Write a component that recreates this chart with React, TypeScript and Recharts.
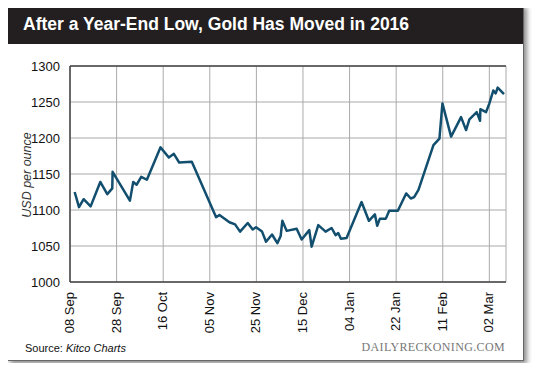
import React from 'react';
import { LineChart, Line, XAxis, YAxis, CartesianGrid, ReferenceLine } from 'recharts';

// trading-day index from 08 Sep 2015, and gold price (USD/oz)
const dayIndex = [
  1.4, 2.7, 4.1, 6.2, 9.1, 11.2, 12.7, 12.8, 18, 19, 20, 21.4, 23.1, 27.2, 29.7, 31.2, 32.8,
  36.6, 43.9, 44.9, 47.9, 49.6, 51.1, 53.4, 54.9, 55.9, 57.7, 58.9, 60.7, 62.3, 63.3, 63.8,
  65.1, 68.1, 69.6, 71.9, 72.6, 74.6, 76.8, 78.6, 79.8, 80.6, 81.4, 83.1, 87.6, 89.8, 91.6,
  92.3, 93.1, 94.9, 95.9, 98.5, 101, 102.4, 103.4, 104.7, 109.2, 111, 111.9, 114.5, 117.5,
  119, 120, 122.2, 123.2, 123.3, 125, 126, 127.2, 127.9, 128.5, 130.4,
];
const price = [
  1125, 1104, 1115, 1105, 1139, 1122, 1130, 1153, 1113, 1139, 1135, 1146, 1142, 1187, 1173, 1178, 1166,
  1167, 1090, 1093, 1083, 1080, 1070, 1082, 1073, 1076, 1070, 1056, 1066, 1054, 1064, 1085,
  1071, 1074, 1059, 1072, 1049, 1079, 1070, 1075, 1065, 1068, 1060, 1061, 1111, 1085, 1094,
  1078, 1088, 1088, 1099, 1099, 1123, 1116, 1118, 1128, 1190, 1199, 1248, 1202, 1229,
  1211, 1226, 1236, 1224, 1240, 1236, 1248, 1266, 1262, 1270, 1261,
];

const tickDays = [0, 14, 28, 42, 56, 70, 84, 98, 112, 126];
const tickLabels = ['08 Sep', '28 Sep', '16 Oct', '05 Nov', '25 Nov', '15 Dec', '04 Jan', '22 Jan', '11 Feb', '02 Mar'];
const yTicks = [1000, 1050, 1100, 1150, 1200, 1250, 1300];

const data = dayIndex.map((d, i) => ({ day: d, price: price[i] }));

const font = '"Liberation Sans", Arial, Helvetica, sans-serif';

const XTick = (props: any) => {
  const { x, y, payload } = props;
  const i = tickDays.indexOf(payload.value);
  return (
    <text
      x={x + 4}
      y={y + 2}
      transform={`rotate(-90 ${x + 4} ${y + 2})`}
      textAnchor="end"
      fontSize={13}
      fontFamily={font}
      fill="#111"
    >
      {tickLabels[i]}
    </text>
  );
};

export default function App() {
  return (
    <div style={{ position: 'relative', margin: -8, width: 540, height: 371, background: '#fff', overflow: 'hidden' }}>
      <div
        style={{
          position: 'absolute',
          left: 7,
          top: 4,
          width: 515,
          height: 355,
          border: '1px solid #666',
          boxShadow: '3px 3px 5px rgba(0,0,0,0.45)',
          background: '#fff',
        }}
      >
        <div
          style={{
            height: 39,
            background: '#231f20',
            color: '#fff',
            fontFamily: font,
            fontWeight: 'bold',
            fontSize: 17.5,
            lineHeight: '39px',
            paddingLeft: 15,
          }}
        >
          After a Year-End Low, Gold Has Moved in 2016
        </div>
      </div>
      <div style={{ position: 'absolute', left: 0, top: 0 }}>
        <LineChart width={540} height={371} data={data} margin={{ top: 66, right: 34, bottom: 39, left: 10 }}>
          <CartesianGrid stroke="#aaa" strokeWidth={1} />
          <XAxis
            dataKey="day"
            type="number"
            domain={[0, 131]}
            ticks={tickDays}
            interval={0}
            tick={<XTick />}
            tickLine={false}
            axisLine={{ stroke: '#444', strokeWidth: 1.5 }}
            height={50}
          />
          <YAxis
            type="number"
            domain={[1000, 1300]}
            ticks={yTicks}
            interval={0}
            width={60}
            tickLine={false}
            axisLine={{ stroke: '#444', strokeWidth: 1.5 }}
            tick={{ fontSize: 13, fill: '#111', fontFamily: font }}
            tickMargin={4}
          />
          <ReferenceLine y={1300} stroke="#444" strokeWidth={1.5} />
          <Line
            dataKey="price"
            type="linear"
            stroke="#124e6e"
            strokeWidth={2.5}
            dot={false}
            isAnimationActive={false}
            strokeLinejoin="round"
          />
        </LineChart>
      </div>
      <div
        style={{
          position: 'absolute',
          left: 27,
          top: 175,
          transform: 'translate(-50%, -50%) rotate(-90deg)',
          fontFamily: font,
          fontStyle: 'italic',
          fontSize: 12.5,
          color: '#333',
          whiteSpace: 'nowrap',
        }}
      >
        USD per ounce
      </div>
      <div style={{ position: 'absolute', left: 25, top: 342, fontFamily: font, fontSize: 11, color: '#111' }}>
        Source: <i>Kitco Charts</i>
      </div>
      <div
        style={{
          position: 'absolute',
          right: 35,
          top: 340,
          fontFamily: '"Liberation Serif", "DejaVu Serif", serif',
          fontSize: 12,
          letterSpacing: 0.35,
          color: '#777',
        }}
      >
        DAILYRECKONING.COM
      </div>
    </div>
  );
}
